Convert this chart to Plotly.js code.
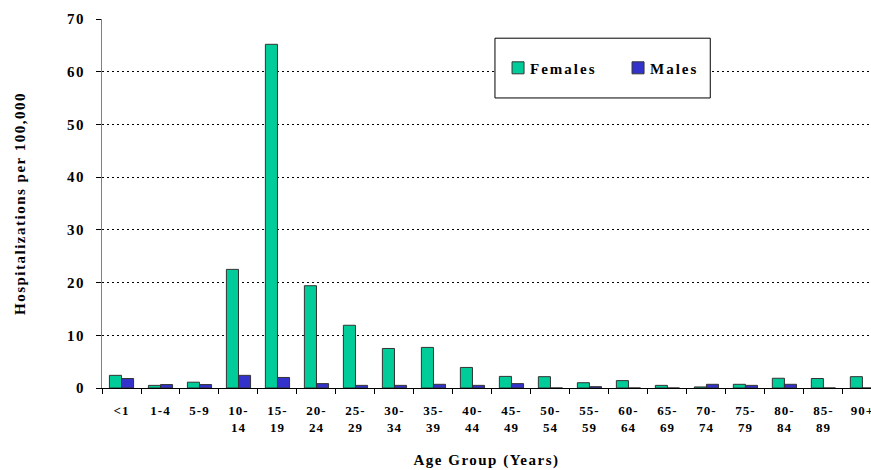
<!DOCTYPE html>
<html>
<head>
<meta charset="utf-8">
<script src="https://cdn.plot.ly/plotly-3.0.1.min.js"></script>
<style>
html,body{margin:0;padding:0;background:#fff;}
#chart{width:871px;height:470px;}
#chart .xtitle, #chart .ytitle{letter-spacing:1.5px;}
#chart .legendtext{letter-spacing:2px; transform:translateX(-8px);}
#chart .ytick text{letter-spacing:1.5px;}
#chart .xtick text{letter-spacing:1px;}
</style>
</head>
<body>
<div id="chart"></div>
<script>
var categories = ["<1","1-4","5-9","10-<br>14","15-<br>19","20-<br>24","25-<br>29","30-<br>34","35-<br>39","40-<br>44","45-<br>49","50-<br>54","55-<br>59","60-<br>64","65-<br>69","70-<br>74","75-<br>79","80-<br>84","85-<br>89","90+"];
var females = [2.4,0.5,1.1,22.5,65.2,19.4,11.9,7.5,7.7,3.9,2.2,2.15,1.0,1.4,0.5,0.2,0.7,1.85,1.8,2.15];
var males   = [1.8,0.65,0.65,2.4,2.0,0.83,0.5,0.5,0.7,0.5,0.83,0,0.25,0,0,0.7,0.5,0.7,0,0];
var yTicks = [0,10,20,30,40,50,60,70];

var serif = "Liberation Serif, Times New Roman, serif";
var data = [
  {type:"bar", name:"Females", x:categories, y:females,
   marker:{color:"#00CC99", line:{color:"#333333", width:1}}},
  {type:"bar", name:"Males", x:categories, y:males,
   marker:{color:"#3333CC", line:{color:"#333333", width:1}}}
];
var layout = {
  width:871, height:470,
  margin:{l:102, r:0, t:19, b:82, pad:0},
  paper_bgcolor:"#fff", plot_bgcolor:"#fff",
  barmode:"group", bargap:0.38, bargroupgap:0,
  font:{family:serif, color:"#000", weight:"bold"},
  showlegend:true,
  legend:{orientation:"h", x:0.515, xanchor:"left", y:0.867, yanchor:"middle",
          bgcolor:"rgba(0,0,0,0)", borderwidth:0,
          font:{family:serif, size:15, color:"#000", weight:"bold"},
          entrywidth:75, entrywidthmode:"pixels"},
  shapes:[{type:"rect", xref:"paper", yref:"paper", x0:0.511, x1:0.791, y0:0.786, y1:0.948,
           line:{color:"#000", width:1}, fillcolor:"#fff", layer:"above"}],
  xaxis:{type:"category", range:[-0.5, 19.22], showgrid:false,
         showline:true, linecolor:"#000", linewidth:1,
         ticks:"outside", tickson:"boundaries", ticklen:5, tickcolor:"#000",
         ticklabelstandoff:10,
         tickfont:{family:serif, size:13, color:"#000", weight:"bold"},
         tickangle:0, fixedrange:true,
         title:{text:"Age Group (Years)", font:{family:serif, size:15, color:"#000", weight:"bold"}, standoff:20}},
  yaxis:{range:[0,70], tickvals:yTicks, showgrid:true, gridcolor:"#000", gridwidth:1, griddash:"2px,3px",
         zeroline:false, showline:true, linecolor:"#808080", linewidth:1,
         ticks:"outside", ticklen:5, tickcolor:"#000", ticklabelstandoff:8,
         tickfont:{family:serif, size:15, color:"#000", weight:"bold"},
         title:{text:"Hospitalizations per 100,000", font:{family:serif, size:15, color:"#000", weight:"bold"}, standoff:40}}
};
Plotly.newPlot("chart", data, layout, {displayModeBar:false, staticPlot:true});
</script>
</body>
</html>
